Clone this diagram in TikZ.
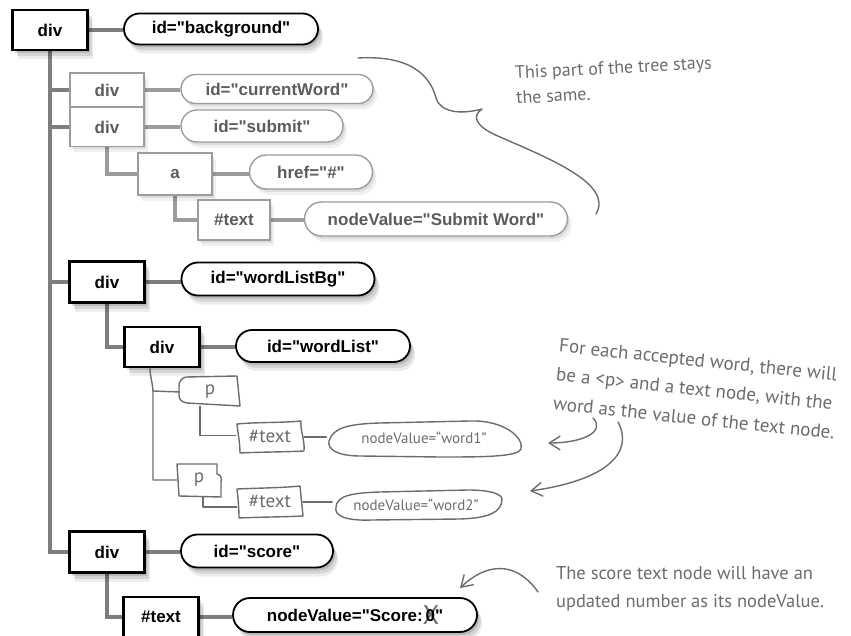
\documentclass[tikz,border=0pt]{standalone}
\usepackage{fontspec}
\setmainfont{Liberation Sans}[Ligatures=TeXOff]
\newfontfamily\handfont{PT Sans}
\usetikzlibrary{shadows,arrows.meta,calc,shapes.misc,backgrounds}
\definecolor{trunkc}{HTML}{7E7E7E}
\definecolor{fadedc}{HTML}{9C9C9C}
\definecolor{fadedtext}{HTML}{5C5C5C}
\definecolor{hand}{HTML}{6C6C6C}
\newcommand{\treefont}{\fontsize{17}{20}\selectfont\bfseries}
\newcommand{\crossout}[1]{\makebox[0pt][l]{\kern-3pt\raisebox{-2.5pt}{\textcolor{hand}{\handfont\mdseries\fontsize{27}{27}\selectfont X}}}#1}
\begin{document}
\begin{tikzpicture}[x=1pt,y=-1pt,
  shadowy/.style={drop shadow={opacity=0.13,shadow xshift=2pt,shadow yshift=-3pt,fill=black},
                  drop shadow={opacity=0.10,shadow xshift=4pt,shadow yshift=-6pt,fill=black},
                  drop shadow={opacity=0.07,shadow xshift=5pt,shadow yshift=-9pt,fill=black}},
  lightshadow/.style={drop shadow={opacity=0.08,shadow xshift=2pt,shadow yshift=-3pt,fill=black},
                  drop shadow={opacity=0.06,shadow xshift=4pt,shadow yshift=-6pt,fill=black}},
  boxb/.style={draw=black,line width=2.2pt,fill=white,minimum width=75pt,minimum height=40pt,inner sep=0pt,font=\treefont,shadowy},
  boxf/.style={draw=fadedc,line width=1.5pt,fill=white,minimum width=74pt,minimum height=36pt,inner sep=0pt,font=\treefont,text=fadedtext,lightshadow},
  pillb/.style={rounded rectangle,draw=black,line width=1.8pt,fill=white,minimum height=31pt,inner sep=0pt,font=\treefont,shadowy},
  pillf/.style={rounded rectangle,draw=fadedc,line width=1.4pt,fill=white,minimum height=30pt,inner sep=0pt,font=\treefont,text=fadedtext,lightshadow},
  trunk/.style={draw=trunkc,line width=4pt},
  trunkf/.style={draw=fadedc,line width=3.5pt},
  handline/.style={draw=hand,line width=1.4pt,line cap=round,line join=round},
  handtext/.style={font=\handfont\fontsize{19}{20}\selectfont,text=hand,inner sep=0pt},
  handpill/.style={font=\handfont\fontsize{15}{18}\selectfont,text=hand,inner sep=0pt},
  note/.style={font=\handfont\fontsize{18.5}{28}\selectfont,text=hand,align=left,inner sep=0pt},
  handarrow/.style={handline,-{Straight Barb[length=11pt,width=14pt,line width=1.4pt]}}
]
\useasboundingbox (0,0) rectangle (851,636);

% ---- printed tree ----
\node[boxb] (root) at (50,30) {div};
\node[pillb,minimum width=194pt] (bgp) at (221,29) {id="background"};
\node[boxf,minimum height=34pt] (cw) at (107,90) {div};
\node[pillf,minimum width=192pt,minimum height=29pt] (cwp) at (277,89) {id="currentWord"};
\node[boxf,minimum height=39pt] (sub) at (107,127) {div};
\node[pillf,minimum width=162pt,minimum height=32pt] (subp) at (262,126) {id="submit"};
\node[boxf,minimum height=42pt] (ab) at (175,174) {a};
\node[pillf,minimum width=123pt,minimum height=34pt] (hrefp) at (311,172) {href="\#"};
\node[boxf,minimum width=72pt,minimum height=40pt] (t1) at (234,220) {\#text};
\node[pillf,minimum width=263pt,minimum height=34pt] (swp) at (436,219) {nodeValue="Submit Word"};
\node[boxb,minimum height=41pt] (wlbg) at (107,282) {div};
\node[pillb,minimum width=193pt,minimum height=33pt] (wlbgp) at (278,279) {id="wordListBg"};
\node[boxb] (wl) at (162,347) {div};
\node[pillb,minimum width=174pt,minimum height=32pt] (wlp) at (323,346) {id="wordList"};
\node[boxb,minimum height=41pt] (sc) at (107,552) {div};
\node[pillb,minimum width=152pt,minimum height=33pt] (scp) at (257,551) {id="score"};
\node[boxb] (st) at (161,617) {\#text};
\node[pillb,minimum width=244pt,minimum height=34pt] (stp) at (355,615) {nodeValue="Score:\,\crossout{0}"};

\begin{scope}[on background layer]
\draw[trunk] (root.south) |- (sc.west);
\draw[trunk] (root.south |- cw.west) -- (cw.west);
\draw[trunk] (root.south |- sub.west) -- (sub.west);
\draw[trunk] (root.south |- wlbg.west) -- (wlbg.west);
\draw[trunk] (root.east) -- (root.east -| bgp.west);
\draw[trunkf] (cw.east) -- (cw.east -| cwp.west);
\draw[trunkf] (sub.east) -- (sub.east -| subp.west);
\draw[trunkf] (sub.south) |- (ab.west);
\draw[trunkf] (ab.east) -- (ab.east -| hrefp.west);
\draw[trunkf] (ab.south) |- (t1.west);
\draw[trunkf] (t1.east) -- (t1.east -| swp.west);
\draw[trunk] (wlbg.east) -- (wlbg.east -| wlbgp.west);
\draw[trunk] (wlbg.south) |- (wl.west);
\draw[trunk] (wl.east) -- (wl.east -| wlp.west);
\draw[trunk] (sc.east) -- (sc.east -| scp.west);
\draw[trunk] (sc.south) |- (st.west);
\draw[trunk] (st.east) -- (st.east -| stp.west);
\end{scope}

% ---- hand-drawn part ----
\node[handtext,minimum width=60pt,minimum height=28pt] (p1) at (210,392) {p};
\node[handtext,minimum width=68pt,minimum height=30pt] (x1) at (270,437) {\#text};
\node[handtext,minimum width=44pt,minimum height=33pt] (p2) at (199,480) {p};
\node[handtext,minimum width=66pt,minimum height=30pt] (x2) at (270,502) {\#text};
\node[handpill,minimum width=195pt,minimum height=36pt] (w1) at (424,438) {nodeValue=“word1”};
\node[handpill,minimum width=168pt,minimum height=30pt] (w2) at (416,505) {nodeValue=“word2”};

% outlines
\draw[handline] (186,377) -- (237,376) -- (240,406) -- (187,403) .. controls (181,402) and (179,399) .. (179,395) -- (179,386) .. controls (179,381) and (182,378) .. (186,377) -- cycle;
\draw[handline] (237,424) .. controls (258,422) and (280,423) .. (301,421) .. controls (300,430) and (305,440) .. (304,451) .. controls (285,452) and (260,452) .. (240,453) .. controls (240,443) and (238,434) .. (237,424) -- cycle;
\draw[handline] (177,464) -- (217,464) -- (217,474) .. controls (221,475) and (222,478) .. (221,482) -- (221,497) -- (179,496) -- cycle;
\draw[handline] (237,489) .. controls (258,488) and (280,488) .. (300,486) .. controls (301,496) and (302,506) .. (303,516) .. controls (282,517) and (260,517) .. (239,518) .. controls (239,508) and (238,498) .. (237,489) -- cycle;
\draw[handline] (329,441) .. controls (333,428) and (347,424) .. (380,423) -- (470,421) .. controls (505,420) and (524,438) .. (521,449) .. controls (518,457) and (482,457) .. (440,457) -- (360,456) .. controls (339,456) and (327,450) .. (329,441) -- cycle;
\draw[handline] (336,507) .. controls (337,496) and (350,493) .. (380,492) -- (468,490) .. controls (490,490) and (503,494) .. (502,500) .. controls (501,512) and (490,518) .. (460,519) -- (372,520) .. controls (346,521) and (334,516) .. (336,507) -- cycle;

% hand connectors
\draw[handline] ([xshift=-12pt]wl.south) .. controls +(0,9) and +(0,-8) .. (153,392) |- (p2.west);
\draw[handline] (153,391) -- (p1.west);
\draw[handline] ([xshift=-10pt]p1.south) |- ([yshift=1.5pt]x1.west);
\draw[handline] ([xshift=4pt]p2.south) |- ([yshift=-5pt]x2.west);
\draw[handline] (x1.east) -- (x1.east -| w1.west);
\draw[handline,line width=2.6pt] (x2.east) -- (x2.east -| w2.west);

% ---- annotations ----
\node[note,font=\handfont\fontsize{18}{25}\selectfont,rotate=3] (n1) at (614,80) {This part of the tree stays\\the same.};
\node[note,font=\handfont\fontsize{19}{29}\selectfont,rotate=-6] (n2) at (697,389) {For each accepted word, there will\\be a <p> and a text node, with the\\word as the value of the text node.};
\node[note] (n3) at (690,589) {The score text node will have an\\updated number as its nodeValue.};

\draw[handline] (358,58) .. controls (410,55) and (430,75) .. (436,98) .. controls (440,112) and (460,115) .. (482,109) .. controls (472,116) and (474,126) .. (500,137) .. controls (548,158) and (614,184) .. (596,214);

\coordinate (a1s) at (593,418);
\coordinate (a1e) at (548,443);
\coordinate (a2s) at (618,422);
\coordinate (a2e) at (530,491);
\coordinate (a3s) at (538,592);
\coordinate (a3e) at (460,588);
\draw[handarrow] (a1s) .. controls (606,432) and (582,443) .. (a1e);
\draw[handarrow] (a2s) .. controls (634,452) and (608,480) .. (a2e);
\draw[handarrow] (a3s) .. controls (520,566) and (492,558) .. (a3e);
\end{tikzpicture}
\end{document}
